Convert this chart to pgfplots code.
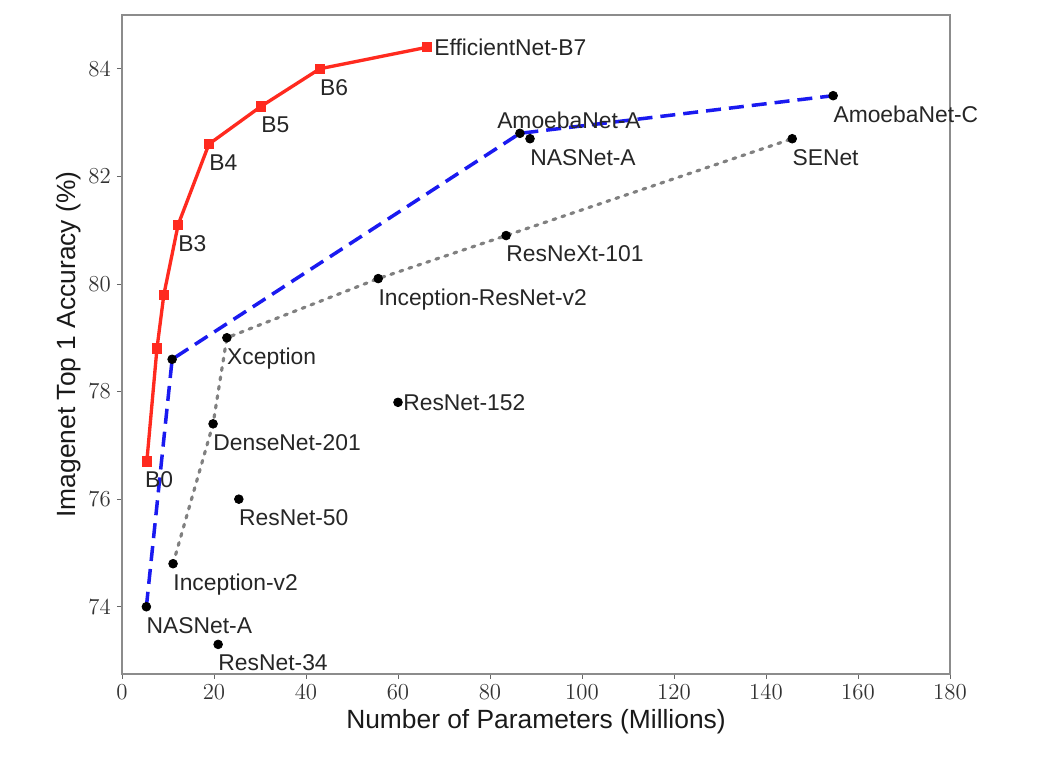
\documentclass[border=0pt]{standalone}
\usepackage{fix-cm}
\usepackage{fontspec}
\setmainfont{Liberation Sans}
\usepackage{pgfplots}
\pgfplotsset{compat=1.18}
\definecolor{effred}{HTML}{FF2A1F}
\definecolor{nasblue}{HTML}{1A1AF0}

\begin{document}
\begin{tikzpicture}
% 1 px of the reference = 0.02cm
\useasboundingbox (-2.44,-1.74) rectangle (18.36,13.48);
\begin{axis}[
    scale only axis,
    width=16.56cm, height=13.18cm,
    xmin=0, xmax=180,
    ymin=72.75, ymax=85.0,
    xtick={0,20,...,180},
    ytick={74,76,...,84},
    axis line style={black!45, line width=0.6pt},
    tick style={black!60, line width=0.5pt},
    tick align=outside,
    major tick length=0.1cm,
    xtick pos=bottom, ytick pos=left,
    ticklabel style={font=\fontsize{13}{15}\selectfont, text=black!80},
    xlabel={Number of Parameters (Millions)},
    ylabel={Imagenet Top 1 Accuracy (\%)},
    label style={font=\fontsize{15}{18}\selectfont, text=black!90},
    xlabel style={yshift=0.05cm},
    ylabel style={yshift=-0.1cm},
    clip=false,
]
% other models (black dots)
\addplot[only marks, mark=*, mark size=2.5pt, black] coordinates {
    (5.3,74.0) (10.9,78.6) (86.5,82.8) (154.6,83.5)
    (11.1,74.8) (19.8,77.4) (22.8,79.0) (55.7,80.1) (83.5,80.9) (145.7,82.7)
    (88.7,82.7) (60.0,77.8) (25.4,76.0) (20.9,73.3)
};
% gray dotted frontier
\addplot[black!50, line width=1.8pt, dash pattern=on 0.06cm off 0.13cm, line cap=round] coordinates {
    (11.1,74.8) (19.8,77.4) (22.8,79.0) (55.7,80.1) (83.5,80.9) (145.7,82.7)
};
% blue dashed frontier
\addplot[nasblue, line width=2pt, dash pattern=on 0.3cm off 0.16cm] coordinates {
    (5.3,74.0) (10.9,78.6) (86.5,82.8) (154.6,83.5)
};
% EfficientNet
\addplot[effred, line width=1.9pt, mark=square*, mark size=2pt, mark options={solid}] coordinates {
    (5.4,76.7) (7.6,78.8) (9.1,79.8) (12.2,81.1) (18.9,82.6) (30.2,83.3) (43.0,84.0) (66.3,84.4)
};

\tikzset{lab/.style={font=\fontsize{13}{15}\selectfont, text=black!85, inner sep=0pt, anchor=north west, yshift=-0.2cm}}
\node[lab, anchor=west, xshift=0.14cm, yshift=0.2cm] at (axis cs:66.3,84.4) {EfficientNet-B7};
\node[lab] at (axis cs:43.0,84.0) {B6};
\node[lab] at (axis cs:30.2,83.3) {B5};
\node[lab] at (axis cs:18.9,82.6) {B4};
\node[lab] at (axis cs:12.2,81.1) {B3};
\node[lab, xshift=-0.04cm] at (axis cs:5.4,76.7) {B0};
\node[lab, anchor=south west, xshift=-0.46cm, yshift=0.28cm] at (axis cs:86.5,82.8) {AmoebaNet-A};
\node[lab] at (axis cs:88.7,82.7) {NASNet-A};
\node[lab] at (axis cs:154.6,83.5) {AmoebaNet-C};
\node[lab] at (axis cs:145.7,82.7) {SENet};
\node[lab] at (axis cs:83.5,80.9) {ResNeXt-101};
\node[lab] at (axis cs:55.7,80.1) {Inception-ResNet-v2};
\node[lab] at (axis cs:22.8,79.0) {Xception};
\node[lab] at (axis cs:19.8,77.4) {DenseNet-201};
\node[lab, anchor=west, xshift=0.1cm, yshift=0.2cm] at (axis cs:60.0,77.8) {ResNet-152};
\node[lab] at (axis cs:25.4,76.0) {ResNet-50};
\node[lab] at (axis cs:11.1,74.8) {Inception-v2};
\node[lab] at (axis cs:5.3,74.0) {NASNet-A};
\node[lab] at (axis cs:20.9,73.3) {ResNet-34};
\end{axis}
\end{tikzpicture}
\end{document}
